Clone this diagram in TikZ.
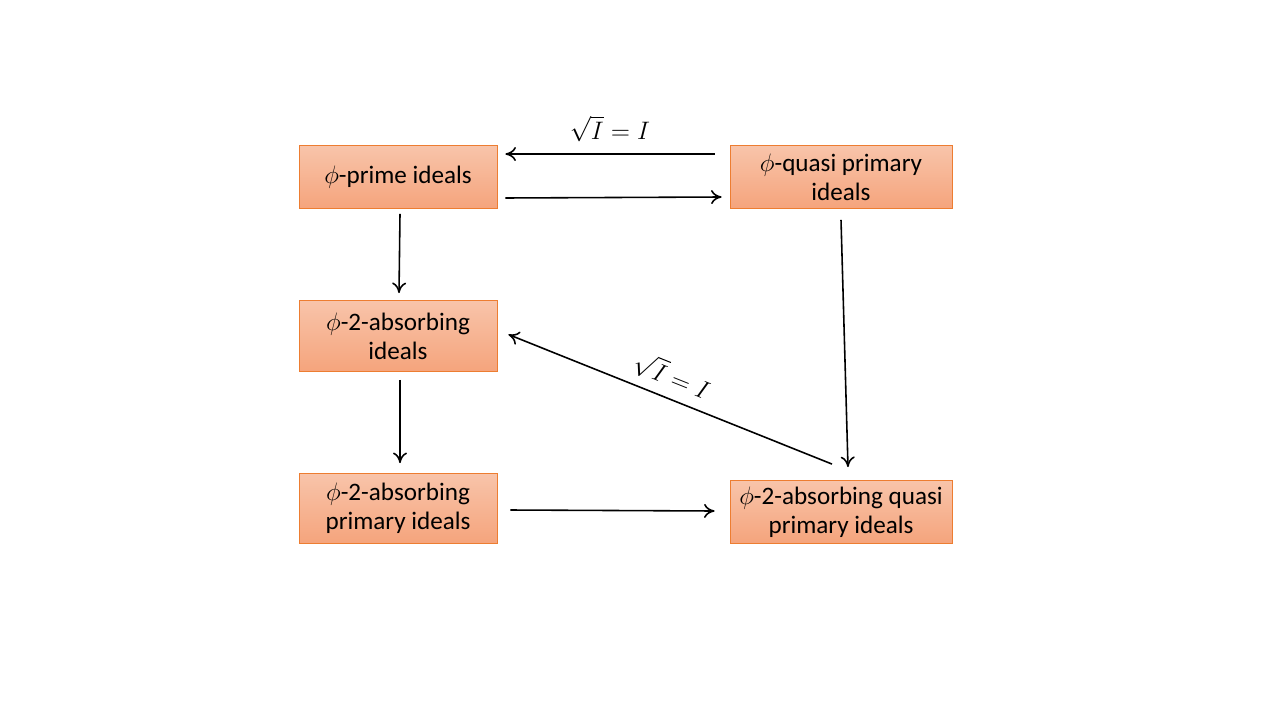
\documentclass[tikz,border=0pt]{standalone}
\usepackage{amsmath,amssymb}
\usepackage{fontspec}
\setmainfont{Carlito}
\usepackage{tikz}
\usetikzlibrary{positioning, arrows.meta, shadings}
\definecolor{naranjaclaro}{RGB}{248, 196, 170}
\definecolor{naranjaoscuro}{RGB}{245, 164, 124}
\definecolor{bordenaranja}{RGB}{237, 125, 49}

\tikzset{
  caja/.style={draw=bordenaranja, line width=0.5pt, top color=naranjaclaro, bottom color=naranjaoscuro,
    minimum width=3.96cm, minimum height=1.26cm, align=center, inner sep=2pt, font=\fontsize{14.3}{16.5}\selectfont},
  flecha/.style={-{To[length=6pt,width=8pt]}, line width=0.9pt}
}

\begin{document}
\begin{tikzpicture}[x=0.02cm, y=-0.02cm]
  % Marco
  \useasboundingbox (0,0) rectangle (1280,720);

  % Cajas
  \node[caja] (prime) at (398,177) {$\phi$-prime ideals};
  \node[caja, minimum width=4.44cm] (quasi) at (841,177) {$\phi$-quasi primary\\ideals};
  \node[caja, minimum height=1.42cm] (abs) at (398,336) {$\phi$-2-absorbing\\ideals};
  \node[caja, minimum height=1.40cm] (absprim) at (398,508.5) {$\phi$-2-absorbing\\primary ideals};
  \node[caja, minimum width=4.44cm] (absquasi) at (841,512) {$\phi$-2-absorbing quasi\\primary ideals};

  % Flechas de arriba
  \draw[flecha] ([xshift=-0.3cm, yshift=0.46cm]quasi.west) -- ([xshift=0.16cm, yshift=0.46cm]prime.east)
    node[midway, above=3pt, font=\fontsize{14.5}{16}\selectfont] {$\sqrt{I}=I$};
  \draw[flecha] ([xshift=0.16cm, yshift=-0.42cm]prime.east) -- ([xshift=-0.16cm, yshift=-0.4cm]quasi.west);

  % Columna izquierda
  \draw[flecha] ([xshift=0.04cm, yshift=-0.1cm]prime.south) -- ([xshift=0.02cm, yshift=0.14cm]abs.north);
  \draw[flecha] ([xshift=0.04cm, yshift=-0.16cm]abs.south) -- ([xshift=0.04cm, yshift=0.2cm]absprim.north);

  % Abajo y derecha
  \draw[flecha] ([xshift=0.26cm, yshift=-0.03cm]absprim.east) -- ([xshift=-0.3cm, yshift=0.02cm]absquasi.west);
  \draw[flecha] ([yshift=-0.22cm]quasi.south) -- ([xshift=0.14cm, yshift=0.26cm]absquasi.north);

  % Diagonal
  \draw[flecha] ([xshift=-0.18cm, yshift=0.32cm]absquasi.north) -- ([xshift=0.22cm, yshift=0.03cm]abs.east)
    node[pos=0.52, above=4pt, sloped, inner sep=1pt, font=\fontsize{14.5}{16}\selectfont] {$\sqrt{I}=I$};
\end{tikzpicture}
\end{document}
